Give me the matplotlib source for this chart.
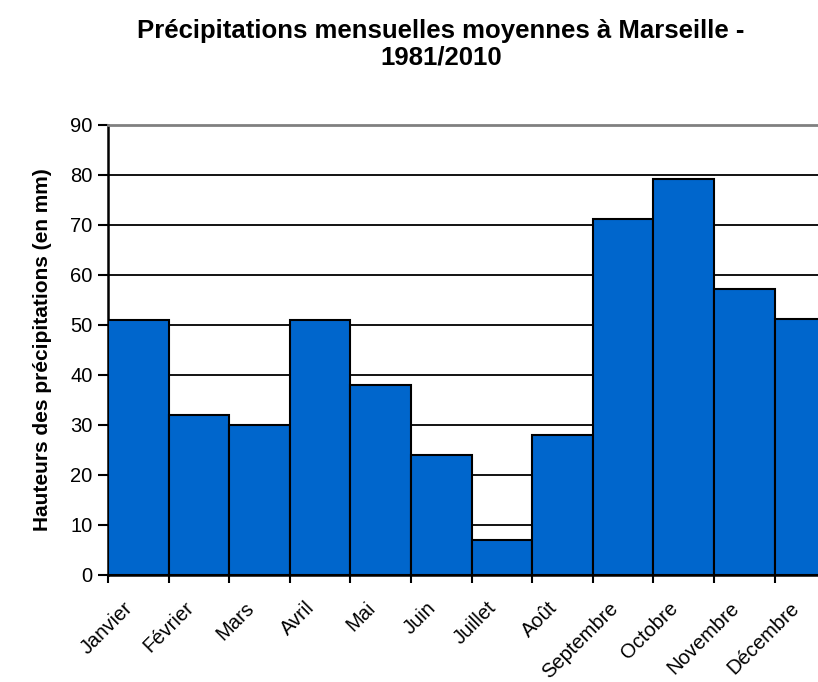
import numpy as np
import matplotlib.pyplot as plt
from matplotlib.ticker import FixedLocator
from matplotlib.transforms import ScaledTranslation

plt.rcParams['font.family'] = ['Liberation Sans', 'DejaVu Sans']

mois = ['Janvier', 'Février', 'Mars', 'Avril', 'Mai', 'Juin', 'Juillet',
        'Août', 'Septembre', 'Octobre', 'Novembre', 'Décembre']
precip = [51, 32, 30, 51, 38, 24, 6.9, 28, 71.2, 79.2, 57.1, 51.1]
yticks = list(range(0, 91, 10))

fig = plt.figure(figsize=(8.18, 6.82), dpi=100)
# the plot area runs past the right edge of the picture, as in the original
ax = fig.add_axes([0.132, 0.157, 0.889, 0.660])

x = np.arange(len(mois))
ax.bar(x, precip, width=1.0, color='#0066CC', edgecolor='black',
       linewidth=1.5, zorder=3)

ax.set_xlim(-0.5, len(mois) - 0.5)
ax.set_ylim(0, 90)
ax.set_yticks(yticks)
ax.yaxis.grid(True, color='black', linewidth=1.3, zorder=0)
ax.set_axisbelow(True)

ax.set_xticks(x)
ax.set_xticklabels(mois, rotation=45, ha='right', rotation_mode='anchor')
ax.xaxis.set_minor_locator(FixedLocator(np.arange(-0.5, len(mois), 1.0)))
ax.tick_params(axis='x', which='major', length=0, pad=14, labelsize=14.5)
ax.tick_params(axis='x', which='minor', length=6, width=1.5, color='black')
ax.tick_params(axis='y', length=7, width=1.5, labelsize=14.5, pad=4)

# shift the slanted month names a bit left, like the original
shift = ScaledTranslation(-15 / 100, -4 / 100, fig.dpi_scale_trans)
for lab in ax.get_xticklabels():
    lab.set_transform(lab.get_transform() + shift)

for s in ['left', 'bottom']:
    ax.spines[s].set_linewidth(1.8)
    ax.spines[s].set_color('black')
ax.spines['top'].set_color('#808080')
ax.spines['top'].set_linewidth(2)
ax.spines['right'].set_visible(False)

ax.set_ylabel('Hauteurs des précipitations (en mm)', fontsize=15,
              fontweight='bold', labelpad=13)

fig.text(0.539, 0.935, 'Précipitations mensuelles moyennes à Marseille -\n1981/2010',
         ha='center', va='center', fontsize=18.5, fontweight='bold',
         linespacing=1.15)

fig.savefig('out.png', dpi=100)
